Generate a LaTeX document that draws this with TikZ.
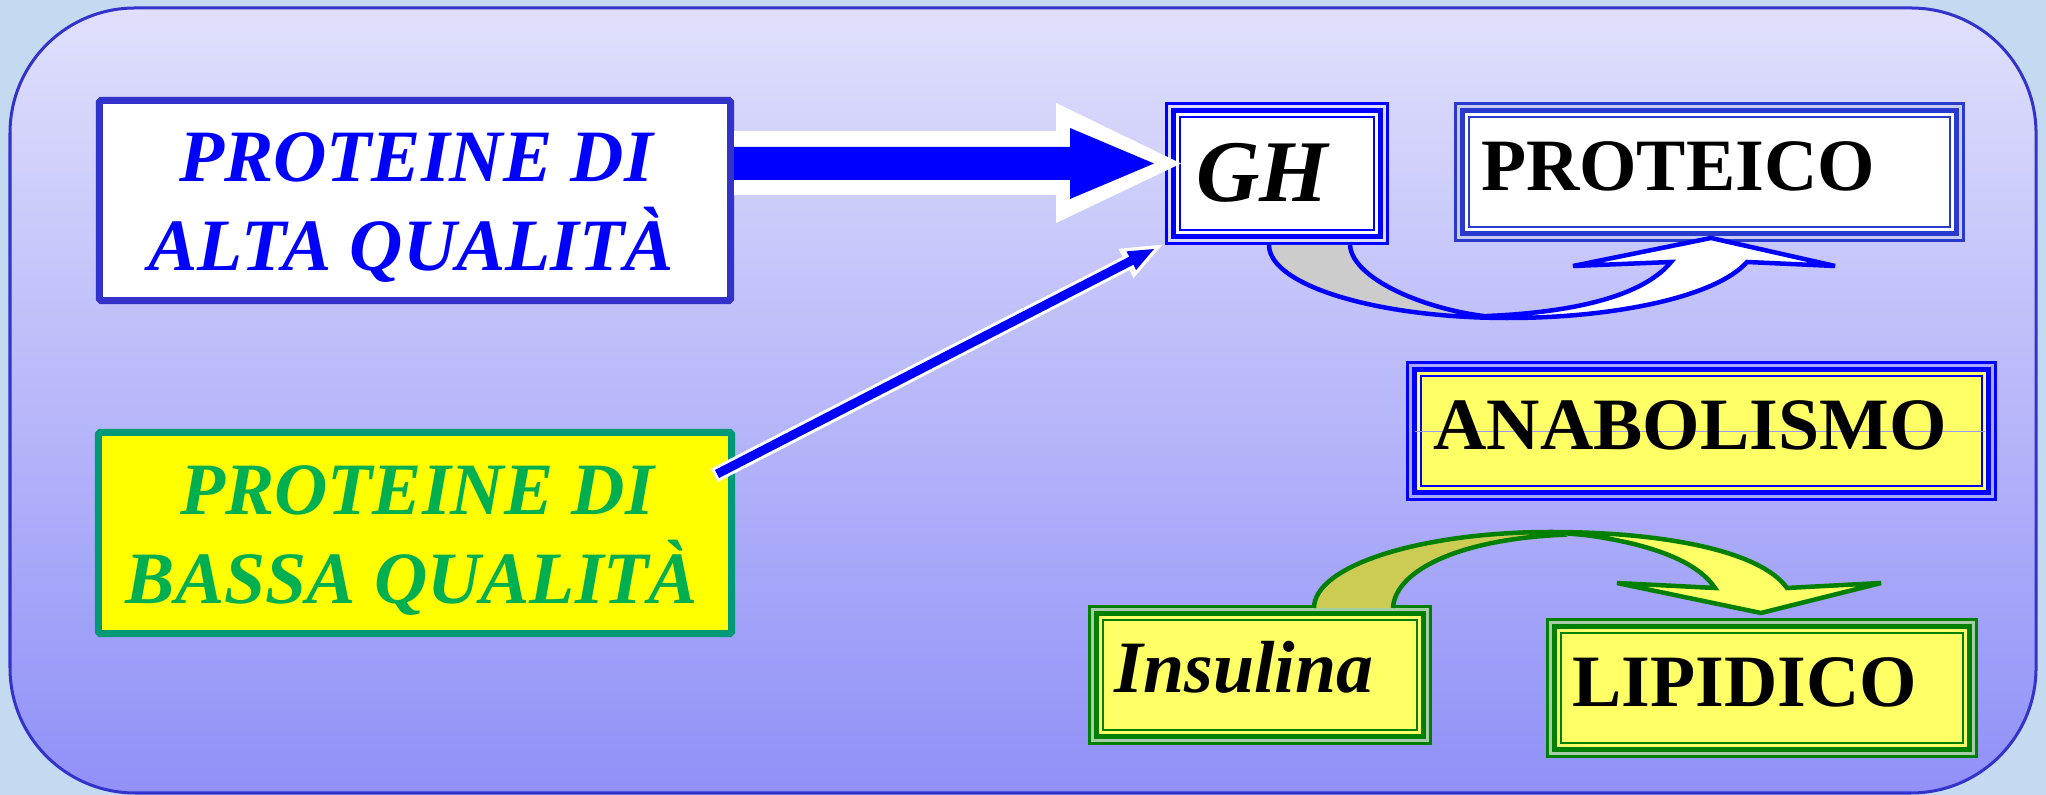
\documentclass[tikz,border=0pt]{standalone}
\usepackage{fontspec}
\setmainfont{Liberation Serif}
\usetikzlibrary{calc}

\definecolor{bgout}{HTML}{C4DAF0}
\definecolor{paneltop}{HTML}{E0E0FC}
\definecolor{panelbot}{HTML}{9090F8}
\definecolor{panelline}{HTML}{3333CC}
\definecolor{boxaline}{HTML}{3333CC}
\definecolor{boxbline}{HTML}{009977}
\definecolor{textgreen}{HTML}{00B050}
\definecolor{pureblue}{HTML}{0000FF}
\definecolor{protline}{HTML}{2A3ACC}
\definecolor{protgap}{HTML}{C8CCF4}
\definecolor{ghgap}{HTML}{DCDCFF}
\definecolor{anagap}{HTML}{A8A8FF}
\definecolor{anaghost}{HTML}{9999FF}
\definecolor{lightyel}{HTML}{FFFF66}
\definecolor{pureyel}{HTML}{FFFF00}
\definecolor{grline}{HTML}{008000}
\definecolor{grgap}{HTML}{A8CCA8}
\definecolor{tailolive}{HTML}{CCCC55}
\definecolor{tailgrey}{HTML}{CCCCCC}

\newcommand\layframe[4]{% node name, line colour, gap colour, fill colour
  \fill[#3] ([shift={(3,3)}]#1.north west) rectangle ([shift={(-3,-3)}]#1.south east);
  \fill[#2] ([shift={(6,6)}]#1.north west) rectangle ([shift={(-6,-6)}]#1.south east);
  \fill[#4] ([shift={(11.5,11.5)}]#1.north west) rectangle ([shift={(-11.5,-11.5)}]#1.south east);
  \fill[#2] ([shift={(14,14)}]#1.north west) rectangle ([shift={(-14,-14)}]#1.south east);
  \fill[#4] ([shift={(16.5,16.5)}]#1.north west) rectangle ([shift={(-16.5,-16.5)}]#1.south east);
}

\tikzset{
  plainbox/.style={draw, line width=0.07cm, inner sep=0pt, outer sep=0pt, rounded corners=0.5pt},
  framebox/.style={inner sep=0pt, outer sep=0pt},
  boxtxt/.style={inner sep=0pt, anchor=base},
  bigit/.style={font=\bfseries\itshape\fontsize{21}{25}\selectfont},
  bigup/.style={font=\bfseries\fontsize{21}{25}\selectfont},
  curveline/.style={line width=0.045cm, line join=miter},
}

\begin{document}
\begin{tikzpicture}[x=0.01cm, y=-0.01cm]
\useasboundingbox (0,0) rectangle (2046,795);
\fill[bgout] (0,0) rectangle (2046,795);
\path[top color=paneltop, bottom color=panelbot, draw=panelline, line width=0.03cm, rounded corners=1.25cm]
  (10,8) rectangle (2036,793);

% left boxes
\node[plainbox, draw=boxaline, fill=white, minimum width=6.31cm, minimum height=2.00cm] (pa) at (415,200.5) {};
\node[plainbox, draw=boxbline, fill=pureyel, minimum width=6.33cm, minimum height=2.01cm] (pb) at (415,533) {};
\node[boxtxt, bigit, text=pureblue] (pa1) at (416,182) {PROTEINE DI};
\node[boxtxt, bigit, text=pureblue] (pa2) at (411,271) {ALTA QUALITÀ};
\node[boxtxt, bigit, text=textgreen] (pb1) at (417,515) {PROTEINE DI};
\node[boxtxt, bigit, text=textgreen] (pb2) at (412,604) {BASSA QUALITÀ};

% framed boxes
\node[framebox, fill=pureblue, minimum width=2.24cm, minimum height=1.43cm] (gh) at (1277,173.5) {};
\layframe{gh}{pureblue}{ghgap}{white}
\node[framebox, fill=protline, minimum width=5.11cm, minimum height=1.40cm] (prot) at (1709.5,172) {};
\layframe{prot}{protline}{protgap}{white}
\node[framebox, fill=pureblue, minimum width=5.91cm, minimum height=1.40cm] (ana) at (1701.5,431) {};
\layframe{ana}{pureblue}{anagap}{lightyel}
\draw[anaghost, line width=0.01cm] ($(ana.west)+(9,1)$) -- ($(ana.east)+(-12,1)$);
\node[framebox, fill=grline, minimum width=3.44cm, minimum height=1.40cm] (ins) at (1260,675) {};
\layframe{ins}{grline}{grgap}{lightyel}
\node[framebox, fill=grline, minimum width=4.32cm, minimum height=1.40cm] (lip) at (1762,688) {};
\layframe{lip}{grline}{grgap}{lightyel}

\node[boxtxt, font=\bfseries\itshape\fontsize{25}{30}\selectfont] (ghtxt) at (1262,202) {GH};
\node[boxtxt, bigup] (prottxt) at (1678,191) {PROTEICO};
\node[boxtxt, bigup] (anatxt) at (1690,450) {ANABOLISMO};
\node[boxtxt, bigit] (instxt) at (1244,693) {Insulina};
\node[boxtxt, bigup] (liptxt) at (1745,707) {LIPIDICO};

% big block arrow from (pa) to (gh)
\coordinate (bigtail) at (734,163.5);
\begin{scope}[shift={(bigtail)}]
  \fill[white] (0,-32.5) -- (322,-32.5) -- (322,-60.5) -- (447,0) -- (322,59.5) -- (322,31.5) -- (0,31.5) -- cycle;
  \fill[pureblue] (0,-16.5) -- (336,-16.5) -- (336,-35.5) -- (420,0) -- (336,35.5) -- (336,16.5) -- (0,16.5) -- cycle;
\end{scope}

% thin arrow from (pb) to (gh)
\coordinate (thintail) at (717,474);
\begin{scope}[shift={(thintail)}, rotate=27.24]
  \fill[white] (-3,-7.5) -- (460,-7.5) -- (460,-16.5) -- (501,0) -- (460,16.5) -- (460,7.5) -- (-3,7.5) -- cycle;
  \fill[pureblue] (0,-4.5) -- (466,-4.5) -- (466,-10.5) -- (491.5,0) -- (466,10.5) -- (466,4.5) -- (0,4.5) -- cycle;
\end{scope}

% curved arrow GH -> PROTEICO
\filldraw[fill=white, draw=pureblue, curveline]
  (1487,316) .. controls (1560,313) and (1640,300) .. (1671,262) -- (1573,266) -- (1711,238) -- (1835,266)
  -- (1747,262) .. controls (1715,298) and (1610,318) .. (1508,318) -- cycle;
\fill[tailgrey] (1269,245) .. controls (1269,285) and (1376,318) .. (1508,318)
  .. controls (1440,316) and (1352,282) .. (1350,245) -- cycle;
\draw[pureblue, curveline] (1269,245) .. controls (1269,285) and (1376,318) .. (1508,318)
  .. controls (1440,316) and (1352,282) .. (1350,245);

% curved arrow Insulina -> LIPIDICO
\filldraw[fill=lightyel, draw=grline, curveline]
  (1551,532) .. controls (1660,532) and (1760,550) .. (1787,588) -- (1881,583) -- (1761,613) -- (1617,583)
  -- (1715,588) .. controls (1700,565) and (1660,545) .. (1585,535) -- cycle;
\fill[tailolive] (1314,608) .. controls (1314,566) and (1420,532) .. (1551,532) -- (1558,535)
  .. controls (1460,540) and (1395,570) .. (1393,608) -- cycle;
\draw[grline, curveline] (1314,608) .. controls (1314,566) and (1420,532) .. (1551,532) -- (1558,535)
  .. controls (1460,540) and (1395,570) .. (1393,608);
\end{tikzpicture}
\end{document}
